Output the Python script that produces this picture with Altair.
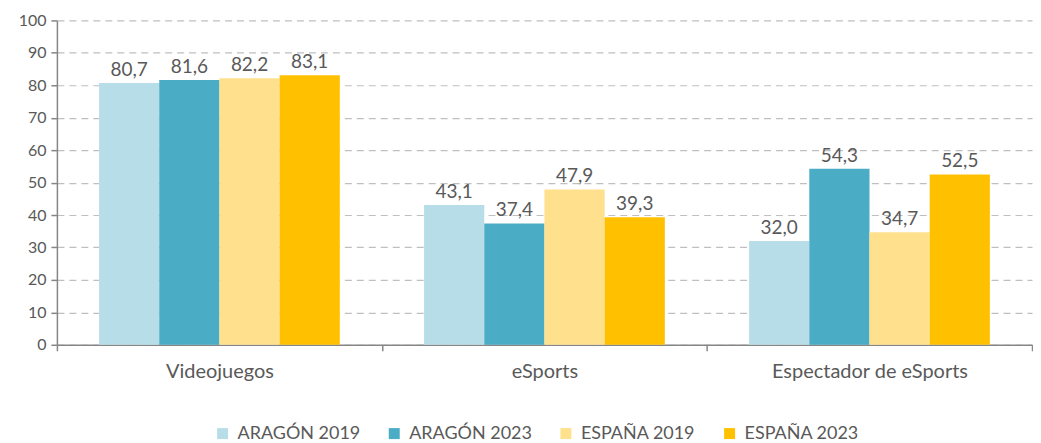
import altair as alt
import pandas as pd

categories = ["Videojuegos", "eSports", "Espectador de eSports"]
series = ["ARAGÓN 2019", "ARAGÓN 2023", "ESPAÑA 2019", "ESPAÑA 2023"]
aragon_2019 = [80.7, 43.1, 32.0]
aragon_2023 = [81.6, 37.4, 54.3]
espana_2019 = [82.2, 47.9, 34.7]
espana_2023 = [83.1, 39.3, 52.5]
colors = ["#B7DEE8", "#4BACC6", "#FFE08C", "#FFC000"]

rows = []
for s, vals in zip(series, [aragon_2019, aragon_2023, espana_2019, espana_2023]):
    for c, v in zip(categories, vals):
        rows.append({"cat": c, "serie": s, "value": v,
                     "label": f"{v:.1f}".replace(".", ",")})
df = pd.DataFrame(rows)

FONT = "Lato"
TXT = "#595959"
AX = "#868686"

base = alt.Chart(df).encode(
    x=alt.X("cat:N", sort=categories, title=None,
            scale=alt.Scale(paddingInner=0, paddingOuter=0),
            axis=alt.Axis(labelAngle=0, labelFontSize=20, labelColor=TXT, labelFont=FONT,
                          labelLimit=400,
                          tickBand="extent", domainColor=AX, tickColor=AX,
                          domainWidth=1.5, tickWidth=1.5,
                          tickSize=6, labelPadding=11)),
    xOffset=alt.XOffset("serie:N", sort=series,
                        scale=alt.Scale(paddingInner=0, paddingOuter=0.70)),
    y=alt.Y("value:Q", title=None,
            scale=alt.Scale(domain=[0, 100]),
            axis=alt.Axis(values=list(range(0, 101, 10)), labelOverlap=False,
                          labelFontSize=16, labelColor=TXT,
                          labelFont=FONT, gridDash=[7, 5], gridColor="#BFBFBF",
                          gridWidth=1.2,
                          domainColor=AX, tickColor=AX, tickSize=6,
                          domainWidth=1.5, tickWidth=1.5,
                          labelPadding=5)),
)

bars = base.mark_bar().encode(
    color=alt.Color("serie:N", sort=series, title=None,
                    scale=alt.Scale(domain=series, range=colors),
                    legend=alt.Legend(orient="none", direction="horizontal",
                                      legendX=157, legendY=405,
                                      symbolType="square", symbolSize=121,
                                      symbolStrokeWidth=0, labelFontSize=18,
                                      labelColor=TXT, labelFont=FONT,
                                      labelOffset=6,
                                      columnPadding=25)),
)

labels = base.mark_text(baseline="alphabetic", dy=-7, fontSize=19, color=TXT, font=FONT).encode(
    text="label:N",
)

chart = (bars + labels).properties(
    width=977, height=325,
    padding={"left": 10, "top": 4, "right": 0, "bottom": 0},
).configure_view(stroke=None)

chart.save("out.html", embed_options={"renderer": "svg", "actions": False})
